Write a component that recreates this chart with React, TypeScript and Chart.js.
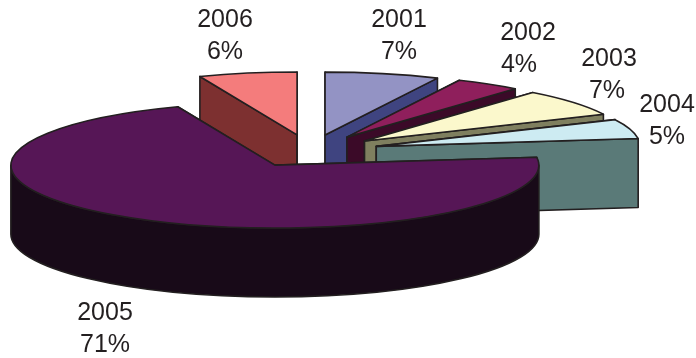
import { useEffect, useRef } from "react";
import { Chart, registerables } from "chart.js";

Chart.register(...registerables);

const years = ["2001", "2002", "2003", "2004", "2005", "2006"];
const shares = [7, 4, 7, 5, 71, 6];
const topColors = ["#9393c4", "#8f1f5c", "#fbf8cc", "#cdebf2", "#561656", "#f47c7c"];
const sideColors = ["#3f4480", "#3b0a28", "#7f7f5f", "#5a7a78", "#180a18", "#7d3030"];

// Slices are painted from the back of the pie to the front
const paintOrder = [5, 0, 1, 2, 3, 4];

// Label centres: x of the year line, x of the percent line, baseline of the year line
const labelAnchors = [
  [399, 399, 27],
  [528, 519, 40],
  [609, 607, 66],
  [667, 667, 112],
  [105, 105, 320],
  [225, 225, 27],
];

const TILT = 0.238; // vertical squash of the pie plane
const DEPTH = 69; // height of the extruded rim
const EXPLODE = 69; // distance each slice is pulled from the centre, in plane units
const RADIUS = 264;
const OUTLINE = "#231f20";

const tiltedPie = {
  id: "tiltedPie",
  beforeDatasetsDraw(chart: any) {
    const { ctx } = chart;
    const arcs = chart.getDatasetMeta(0).data;

    const outline = () => {
      ctx.strokeStyle = OUTLINE;
      ctx.lineWidth = 1.6;
      ctx.lineJoin = "round";
      ctx.stroke();
    };

    paintOrder.forEach((i) => {
      const arc = arcs[i];
      const { x, y, startAngle, endAngle, outerRadius: r } = arc;
      const mid = (startAngle + endAngle) / 2;
      const cx = x + Math.cos(mid) * EXPLODE;
      const cy = y + Math.sin(mid) * EXPLODE * TILT;
      const px = (a: number) => cx + r * Math.cos(a);
      const py = (a: number) => cy + r * TILT * Math.sin(a);

      // Radial walls
      ctx.fillStyle = sideColors[i];
      for (const a of [startAngle, endAngle]) {
        ctx.beginPath();
        ctx.moveTo(cx, cy);
        ctx.lineTo(px(a), py(a));
        ctx.lineTo(px(a), py(a) + DEPTH);
        ctx.lineTo(cx, cy + DEPTH);
        ctx.closePath();
        ctx.fill();
        outline();
      }

      // Outer rim, only where it faces the viewer
      const from = Math.max(startAngle, 0);
      const to = Math.min(endAngle, Math.PI);
      if (to > from) {
        ctx.beginPath();
        ctx.ellipse(cx, cy, r, r * TILT, 0, from, to);
        ctx.ellipse(cx, cy + DEPTH, r, r * TILT, 0, to, from, true);
        ctx.closePath();
        ctx.fill();
        outline();
      }

      // Top face: the library's own arc, drawn in the squashed plane
      ctx.save();
      ctx.translate(cx - x, cy);
      ctx.scale(1, TILT);
      ctx.translate(0, -y);
      arc.draw(ctx);
      ctx.restore();

      ctx.beginPath();
      ctx.moveTo(cx, cy);
      ctx.ellipse(cx, cy, r, r * TILT, 0, startAngle, endAngle);
      ctx.closePath();
      outline();
    });

    // Two-line labels
    ctx.fillStyle = OUTLINE;
    ctx.font = '25px "Liberation Sans", Arial, sans-serif';
    ctx.textAlign = "center";
    ctx.textBaseline = "alphabetic";
    years.forEach((year, i) => {
      const [yearX, shareX, base] = labelAnchors[i];
      ctx.fillText(year, yearX, base);
      ctx.fillText(`${shares[i]}%`, shareX, base + 32);
    });

    return false;
  },
};

export default function App() {
  const ref = useRef<HTMLCanvasElement>(null);

  useEffect(() => {
    document.body.style.margin = "0";
    const chart = new Chart(ref.current!, {
      type: "pie",
      data: {
        labels: years,
        datasets: [
          {
            data: shares,
            backgroundColor: topColors,
            borderWidth: 0,
          },
        ],
      },
      options: {
        responsive: false,
        animation: false,
        radius: RADIUS,
        layout: { padding: { right: 76, bottom: 56 } },
        plugins: { legend: { display: false }, tooltip: { enabled: false } },
      } as any,
      plugins: [tiltedPie],
    });
    return () => chart.destroy();
  }, []);

  return <canvas ref={ref} width={696} height={358} style={{ display: "block" }} />;
}
